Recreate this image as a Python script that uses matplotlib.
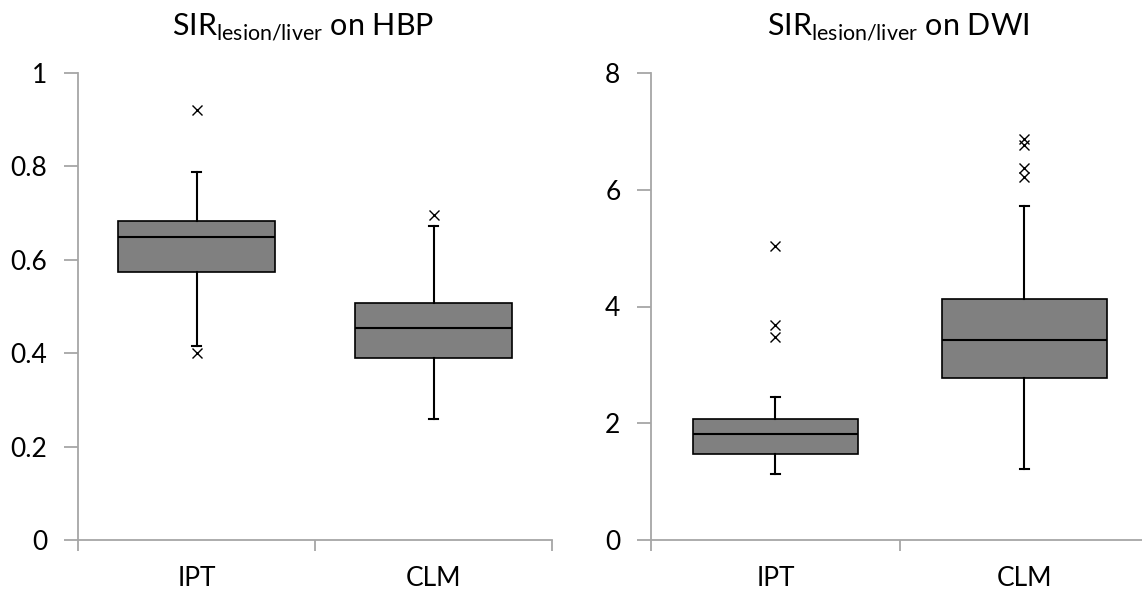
import matplotlib
matplotlib.use("Agg")
import matplotlib.pyplot as plt

plt.rcParams['font.family'] = ['Lato', 'DejaVu Sans']
plt.rcParams['mathtext.fontset'] = 'custom'
plt.rcParams['mathtext.rm'] = 'Lato'

categories = ["IPT", "CLM"]

# HBP panel
hbp_q1 = [0.573, 0.390]
hbp_med = [0.648, 0.455]
hbp_q3 = [0.684, 0.507]
hbp_lo = [0.415, 0.260]
hbp_hi = [0.787, 0.672]
hbp_fliers = [[0.920, 0.400], [0.697]]
hbp_yticks = [0, 0.2, 0.4, 0.6, 0.8, 1]
hbp_yticklabels = ["0", "0.2", "0.4", "0.6", "0.8", "1"]

# DWI panel
dwi_q1 = [1.48, 2.78]
dwi_med = [1.82, 3.43]
dwi_q3 = [2.08, 4.12]
dwi_lo = [1.13, 1.22]
dwi_hi = [2.45, 5.72]
dwi_fliers = [[5.03, 3.68, 3.47], [6.87, 6.76, 6.37, 6.22]]
dwi_yticks = [0, 2, 4, 6, 8]
dwi_yticklabels = ["0", "2", "4", "6", "8"]

fig = plt.figure(figsize=(11.42, 5.92), dpi=100)
W, H = 1142, 592

def make_panel(rect, q1, med, q3, lo, hi, fliers, ylim, yticks, yticklabels, title, title_x):
    ax = fig.add_axes(rect)
    stats = []
    for i in range(len(categories)):
        stats.append(dict(q1=q1[i], med=med[i], q3=q3[i], whislo=lo[i], whishi=hi[i],
                          fliers=fliers[i], label=categories[i]))
    ax.bxp(stats, positions=[0.5, 1.5], widths=0.66, patch_artist=True,
           showfliers=True, capwidths=0.04,
           boxprops=dict(facecolor="#808080", edgecolor="black", linewidth=1.2),
           medianprops=dict(color="black", linewidth=1.5),
           whiskerprops=dict(color="black", linewidth=1.5),
           capprops=dict(color="black", linewidth=1.5),
           flierprops=dict(marker="x", markeredgecolor="black", markersize=7,
                           markeredgewidth=1.0, linestyle="none"))
    ax.set_xlim(0, 2)
    ax.set_ylim(*ylim)
    ax.set_xticks([0, 1, 2])
    ax.set_xticklabels(["", "", ""])
    ax.set_xticks([0.5, 1.5], minor=True)
    ax.set_xticklabels(categories, minor=True, fontsize=19, color="black")
    ax.tick_params(axis="x", which="minor", length=0, pad=19)
    ax.tick_params(axis="x", which="major", length=8, width=1.3, color="#a6a6a6", direction="out")
    ax.set_yticks(yticks)
    ax.set_yticklabels(yticklabels, fontsize=19, color="black")
    ax.tick_params(axis="y", length=10, width=1.3, color="#a6a6a6", direction="out", pad=12)
    for s in ["top", "right"]:
        ax.spines[s].set_visible(False)
    for s in ["left", "bottom"]:
        ax.spines[s].set_color("#a6a6a6")
        ax.spines[s].set_linewidth(1.3)
    t = ax.set_title(title, fontsize=22, pad=28, color="black")
    t.set_x(title_x)
    return ax

bottom = 1 - 540 / H
top = 1 - 73 / H
make_panel([78 / W, bottom, (552 - 78) / W, top - bottom],
           hbp_q1, hbp_med, hbp_q3, hbp_lo, hbp_hi, hbp_fliers,
           (0, 1), hbp_yticks, hbp_yticklabels,
           r"SIR$_{\mathregular{lesion/liver}}$ on HBP", 0.475)
make_panel([651 / W, bottom, (1149 - 651) / W, top - bottom],
           dwi_q1, dwi_med, dwi_q3, dwi_lo, dwi_hi, dwi_fliers,
           (0, 8), dwi_yticks, dwi_yticklabels,
           r"SIR$_{\mathregular{lesion/liver}}$ on DWI", 0.497)

fig.savefig("out.png", dpi=100)
